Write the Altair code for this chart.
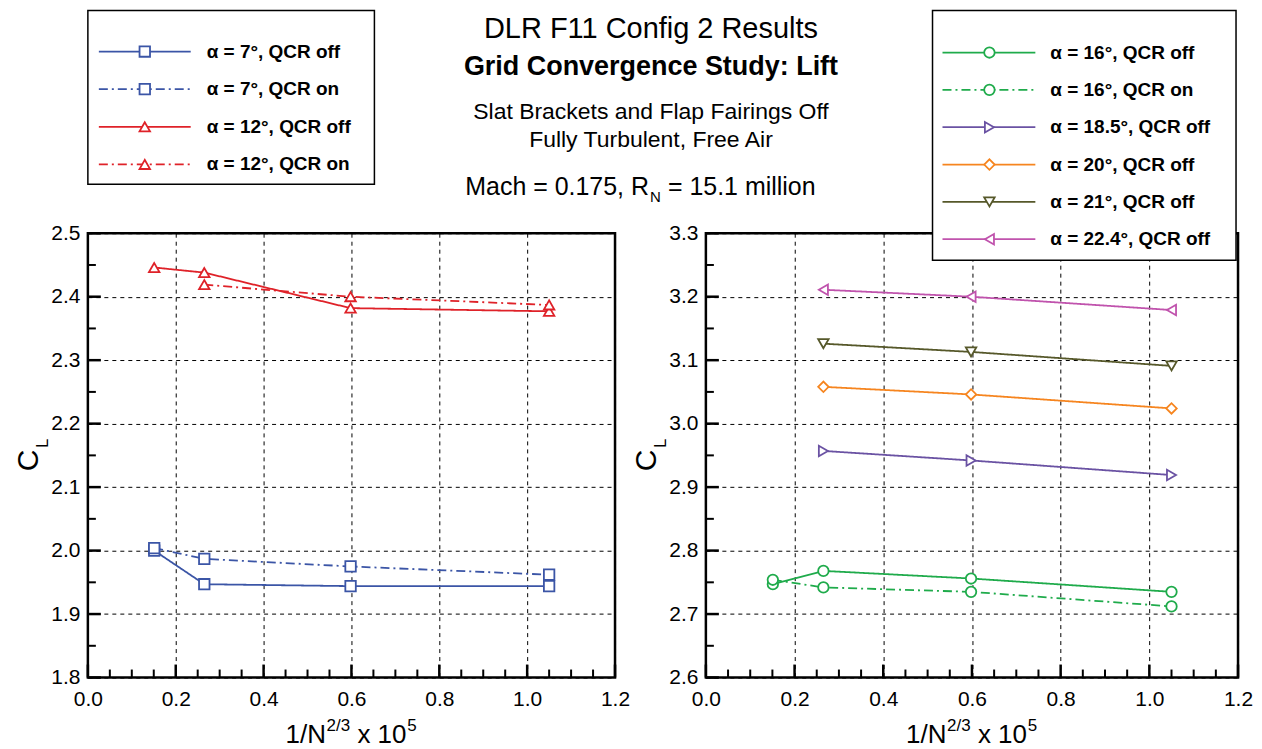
import altair as alt
import pandas as pd
import numpy as np

FONT = "Liberation Sans"

# grid levels: x = 1/N^(2/3) x 10^5
grid_x = [0.151, 0.265, 0.598, 1.050]

# ---------------- left panel data ----------------
left_labels = ["α = 7°, QCR off", "α = 7°, QCR on", "α = 12°, QCR off", "α = 12°, QCR on"]
left_qcr = ["off", "on", "off", "on"]
left_colors = ["#3b55a6", "#3b55a6", "#df2229", "#df2229"]
left_shapes = ["square", "square", "triangle-up", "triangle-up"]
cl_a7_off = [2.000, 1.947, 1.944, 1.944]
cl_a7_on = [2.004, 1.987, 1.975, 1.962]
cl_a12_off = [2.446, 2.438, 2.382, 2.377]
cl_a12_on = [None, 2.419, 2.400, 2.387]

# ---------------- right panel data ----------------
right_labels = ["α = 16°, QCR off", "α = 16°, QCR on", "α = 18.5°, QCR off",
                "α = 20°, QCR off", "α = 21°, QCR off", "α = 22.4°, QCR off"]
right_qcr = ["off", "on", "off", "off", "off", "off"]
right_colors = ["#1fab4b", "#1fab4b", "#6a52a3", "#f6851f", "#56582a", "#c053ad"]
right_shapes = ["circle", "circle", "triangle-right", "diamond", "triangle-down", "triangle-left"]
cl_a16_off = [2.747, 2.768, 2.756, 2.735]
cl_a16_on = [2.754, 2.742, 2.735, 2.712]
cl_a185_off = [None, 2.957, 2.942, 2.919]
cl_a20_off = [None, 3.058, 3.046, 3.024]
cl_a21_off = [None, 3.126, 3.113, 3.091]
cl_a224_off = [None, 3.211, 3.200, 3.179]

x_ticks = [0.0, 0.2, 0.4, 0.6, 0.8, 1.0, 1.2]
x_minor = [0.05, 0.1, 0.15, 0.25, 0.3, 0.35, 0.45, 0.5, 0.55, 0.65, 0.7, 0.75,
           0.85, 0.9, 0.95, 1.05, 1.1, 1.15]
left_y_ticks = [1.8, 1.9, 2.0, 2.1, 2.2, 2.3, 2.4, 2.5]
left_y_minor = [1.85, 1.95, 2.05, 2.15, 2.25, 2.35, 2.45]
right_y_ticks = [2.6, 2.7, 2.8, 2.9, 3.0, 3.1, 3.2, 3.3]
right_y_minor = [2.65, 2.75, 2.85, 2.95, 3.05, 3.15, 3.25]

title_lines = ["DLR F11 Config 2 Results", "Grid Convergence Study: Lift",
               "Slat Brackets and Flap Fairings Off", "Fully Turbulent, Free Air"]
mach_parts = ["Mach = 0.175, R", "N", "= 15.1 million"]
xtitle_parts = ["1/N", "2/3", "x 10", "5"]
ytitle_parts = ["C", "L"]


def long_df(labels, qcrs, series):
    rows = []
    for lab, q, vals in zip(labels, qcrs, series):
        for xv, v in zip(grid_x, vals):
            if v is not None:
                rows.append({"x": xv, "cl": v, "series": lab, "qcr": q})
    return pd.DataFrame(rows)


dummy = pd.DataFrame({"a": [0]})


def txt(x, y, s, size, weight="normal", align="left", angle=0):
    return alt.Chart(dummy).mark_text(
        font=FONT, fontSize=size, fontWeight=weight, align=align,
        baseline="alphabetic" if angle == 0 else "middle", angle=angle, color="black"
    ).encode(x=alt.value(x), y=alt.value(y), text=alt.value(s))


def panel(df, labels, qcrs, colors, shapes, ydom, yticks, yminor, W, H, leg, extra):
    xs = alt.Scale(domain=[0, 1.2], nice=False, zero=False)
    ys = alt.Scale(domain=ydom, nice=False, zero=False)
    cscale = alt.Scale(domain=labels, range=colors)
    dscale = alt.Scale(domain=["off", "on"], range=[[1, 0], [9, 4, 2, 4]])
    sscale = alt.Scale(domain=labels, range=shapes)

    ax_x = alt.Axis(orient="bottom", values=x_ticks, format=".1f", title=None,
                    grid=True, gridColor="black", gridDash=[4, 4], gridWidth=1, gridOpacity=1,
                    ticks=False, tickSize=0, domain=False, labelFontSize=21, labelFont=FONT,
                    labelColor="black", labelPadding=11, labelFlush=False, labelOverlap=False)
    ax_y = alt.Axis(orient="left", values=yticks, format=".1f", title=None,
                    grid=True, gridColor="black", gridDash=[4, 4], gridWidth=1, gridOpacity=1,
                    ticks=False, tickSize=0, domain=False, labelFontSize=21, labelFont=FONT,
                    labelColor="black", labelPadding=8, labelFlush=False, labelOverlap=False)

    lines = alt.Chart(df).mark_line(strokeWidth=1.8).encode(
        x=alt.X("x:Q", scale=xs, axis=ax_x),
        y=alt.Y("cl:Q", scale=ys, axis=ax_y),
        color=alt.Color("series:N", scale=cscale, legend=None),
        strokeDash=alt.StrokeDash("qcr:N", scale=dscale, legend=None),
    )
    pts = alt.Chart(df).mark_point(filled=True, fill="white", size=110, strokeWidth=1.8,
                                   opacity=1).encode(
        x=alt.X("x:Q", scale=xs, axis=ax_x),
        y=alt.Y("cl:Q", scale=ys, axis=ax_y),
        stroke=alt.Stroke("series:N", scale=cscale, legend=None),
        shape=alt.Shape("series:N", scale=sscale, legend=None),
    )

    # inward tick marks along the bottom and left frame, at the axis tick values
    def xtick(vals, size, width):
        return alt.Chart(pd.DataFrame({"tv": vals})).mark_rule(
            color="black", strokeWidth=width).encode(
            x=alt.X("tv:Q", scale=xs, axis=ax_x), y=alt.value(H), y2=alt.value(H - size))

    def ytick(vals, size, width):
        return alt.Chart(pd.DataFrame({"tw": vals})).mark_rule(
            color="black", strokeWidth=width).encode(
            y=alt.Y("tw:Q", scale=ys, axis=ax_y), x=alt.value(0), x2=alt.value(size))

    ticks = [xtick(x_ticks, 13, 2.5), xtick(x_minor, 8, 2),
             ytick(yticks, 13, 2.5), ytick(yminor, 8, 2)]

    # legend drawn from the series lists
    legdf = pd.DataFrame({"series": labels, "qcr": qcrs, "i": list(range(len(labels)))})
    base = alt.Chart(legdf).transform_calculate(ly=f"{leg['y0']} + datum.i*{leg['dy']}")
    ly = alt.Y("ly:Q", scale=None, axis=None)
    box = alt.Chart(dummy).mark_rect(fill="white", stroke="black", strokeWidth=1.5).encode(
        x=alt.value(leg["bx1"]), x2=alt.value(leg["bx2"]),
        y=alt.value(leg["by1"]), y2=alt.value(leg["by2"]))
    lrule = base.mark_rule(strokeWidth=1.8).encode(
        x=alt.value(leg["lx1"]), x2=alt.value(leg["lx2"]), y=ly,
        color=alt.Color("series:N", scale=cscale, legend=None),
        strokeDash=alt.StrokeDash("qcr:N", scale=dscale, legend=None))
    lpt = base.mark_point(filled=True, fill="white", size=110, strokeWidth=1.8, opacity=1).encode(
        x=alt.value(leg["mx"]), y=ly,
        stroke=alt.Stroke("series:N", scale=cscale, legend=None),
        shape=alt.Shape("series:N", scale=sscale, legend=None))
    ltxt = base.mark_text(align="left", baseline="middle", font=FONT, fontSize=19,
                          fontWeight="bold", color="black").encode(
        x=alt.value(leg["tx"]), y=ly, text="series:N")

    # axis titles
    cx = W / 2.0
    x0 = cx - 66
    titles = [
        txt(-59, H / 2.0 + 5, ytitle_parts[0], 30, angle=270, align="center"),
        txt(-45, H / 2.0 - 12, ytitle_parts[1], 17, angle=270, align="center"),
        txt(x0, H + 66, xtitle_parts[0], 26),
        txt(x0 + 41, H + 54, xtitle_parts[1], 17),
        txt(x0 + 72, H + 66, xtitle_parts[2], 26),
        txt(x0 + 122, H + 54, xtitle_parts[3], 17),
    ]

    layers = [lines, pts] + titles + extra + [box, lrule, lpt, ltxt] + ticks
    return alt.layer(*layers).properties(width=W, height=H)


LW, LH = 528, 445
RW, RH = 533, 445

left_df = long_df(left_labels, left_qcr, [cl_a7_off, cl_a7_on, cl_a12_off, cl_a12_on])
right_df = long_df(right_labels, right_qcr,
                   [cl_a16_off, cl_a16_on, cl_a185_off, cl_a20_off, cl_a21_off, cl_a224_off])

tc = 564  # title centre, relative to left plot origin
head = [
    alt.Chart(dummy).mark_rect(opacity=0).encode(
        x=alt.value(-78), x2=alt.value(-70), y=alt.value(-223), y2=alt.value(-215)),
    txt(tc, -196, title_lines[0], 29, align="center"),
    txt(tc, -158, title_lines[1], 27, weight="bold", align="center"),
    txt(tc, -114, title_lines[2], 23, align="center"),
    txt(tc, -86, title_lines[3], 23, align="center"),
    txt(tc - 2, -38, mach_parts[0], 25, align="right"),
    txt(tc - 1, -31, mach_parts[1], 15),
    txt(tc + 17, -38, mach_parts[2], 25),
]

left_leg = dict(bx1=0, bx2=287, by1=-223, by2=-49, y0=-182, dy=37.7,
                lx1=11, lx2=103, mx=57, tx=119)
right_leg = dict(bx1=227, bx2=531, by1=-223, by2=27, y0=-181, dy=37.4,
                 lx1=237, lx2=330, mx=284, tx=345)

left = panel(left_df, left_labels, left_qcr, left_colors, left_shapes,
             [1.8, 2.5], left_y_ticks, left_y_minor, LW, LH, left_leg, head)
right = panel(right_df, right_labels, right_qcr, right_colors, right_shapes,
              [2.6, 3.3], right_y_ticks, right_y_minor, RW, RH, right_leg, [])

chart = alt.hconcat(left, right, spacing=91, bounds="flush").resolve_scale(
    color="independent", stroke="independent", shape="independent", strokeDash="independent"
).properties(padding=0).configure_view(stroke="black", strokeWidth=2.5)

chart.save("out.html", embed_options={"renderer": "svg", "actions": False})
